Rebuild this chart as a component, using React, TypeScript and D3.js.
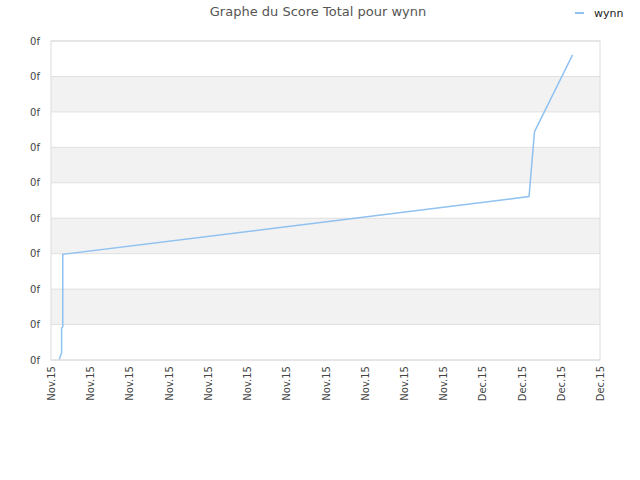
import React, { useEffect, useRef } from 'react';
import * as d3 from 'd3';

const WIDTH = 640;
const HEIGHT = 480;
const margin = { l: 51, r: 40, t: 41, b: 120 };

// x = position on the tick grid (0..14), y = position on the band grid (0..9)
const seriesX = [0.21, 0.27, 0.27, 0.3, 0.3, 12.19, 12.33, 13.3];
const seriesY = [0.02, 0.2, 0.9, 0.94, 2.98, 4.61, 6.44, 8.61];

const xTickLabels = [
  'Nov.15', 'Nov.15', 'Nov.15', 'Nov.15', 'Nov.15', 'Nov.15', 'Nov.15', 'Nov.15',
  'Nov.15', 'Nov.15', 'Nov.15', 'Dec.15', 'Dec.15', 'Dec.15', 'Dec.15',
];
const yTickLabels = ['0f', '0f', '0f', '0f', '0f', '0f', '0f', '0f', '0f', '0f'];

const LINE_COLOR = '#8fc1f1';
const FONT = 'DejaVu Sans, Verdana, sans-serif';

const App = () => {
  const w = WIDTH - margin.l - margin.r;
  const h = HEIGHT - margin.t - margin.b;
  const $x = useRef<SVGGElement>(null);
  const $y = useRef<SVGGElement>(null);

  const xScale = d3.scaleLinear().domain([0, xTickLabels.length - 1]).range([0, w]);
  const yScale = d3.scaleLinear().domain([0, yTickLabels.length - 1]).range([h, 0]);

  const line = d3
    .line<number>()
    .x((d, i) => xScale(seriesX[i]))
    .y((d) => yScale(d));

  useEffect(() => {
    const xAxis = d3
      .axisBottom(xScale)
      .tickValues(d3.range(xTickLabels.length))
      .tickSize(0)
      .tickFormat((d: any) => xTickLabels[d]);
    const gx = d3.select($x.current!).call(xAxis as any);
    gx.select('.domain').remove();
    gx.selectAll('text')
      .attr('transform', 'rotate(-90)')
      .attr('text-anchor', 'end')
      .attr('x', -6)
      .attr('y', 0)
      .attr('dy', '0.35em')
      .style('font-family', FONT)
      .style('font-size', '10px')
      .style('fill', '#444');

    const yAxis = d3
      .axisLeft(yScale)
      .tickValues(d3.range(yTickLabels.length))
      .tickSize(0)
      .tickPadding(11)
      .tickFormat((d: any) => yTickLabels[d]);
    const gy = d3.select($y.current!).call(yAxis as any);
    gy.select('.domain').remove();
    gy.selectAll('text')
      .style('font-family', FONT)
      .style('font-size', '10px')
      .style('fill', '#444');
  }, []);

  const bands = d3.range(yTickLabels.length - 1).filter((i) => i % 2 === 1);

  return (
    <svg
      width={WIDTH}
      height={HEIGHT}
      style={{ position: 'absolute', left: 0, top: 0, background: '#fff' }}
    >
      <text
        x={318}
        y={16}
        textAnchor="middle"
        style={{ fontFamily: FONT, fontSize: '13px', fill: '#555' }}
      >
        Graphe du Score Total pour wynn
      </text>
      <line x1={575} x2={584} y1={13} y2={13} stroke={LINE_COLOR} strokeWidth={2} />
      <text x={594} y={17} style={{ fontFamily: FONT, fontSize: '11px', fill: '#222' }}>
        wynn
      </text>
      <g transform={`translate(${margin.l}, ${margin.t})`}>
        {bands.map((i) => (
          <rect
            key={i}
            x={0}
            width={w}
            y={yScale(i + 1)}
            height={yScale(i) - yScale(i + 1)}
            fill="#f2f2f2"
          />
        ))}
        {d3.range(yTickLabels.length).map((i) => (
          <line key={i} x1={0} x2={w} y1={yScale(i)} y2={yScale(i)} stroke="#e0e0e0" />
        ))}
        <rect x={0} y={0} width={w} height={h} fill="none" stroke="#dcdcdc" />
        <path
          d={line(seriesY) || ''}
          fill="none"
          stroke={LINE_COLOR}
          strokeWidth={1.5}
        />
        <g ref={$x} transform={`translate(0, ${h})`} />
        <g ref={$y} />
      </g>
    </svg>
  );
};

export default App;
